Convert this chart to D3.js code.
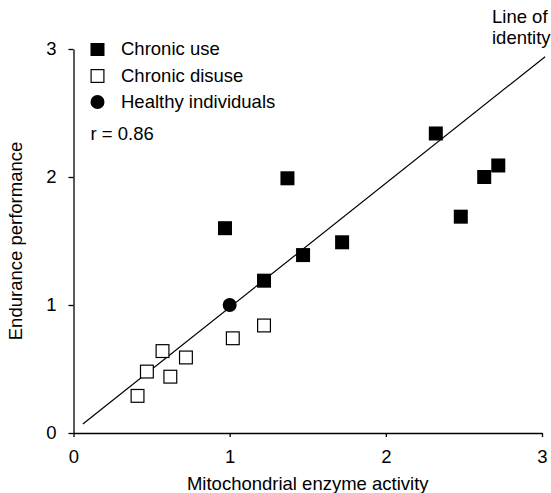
<!DOCTYPE html>
<html>
<head>
<meta charset="utf-8">
<script src="https://cdn.jsdelivr.net/npm/d3@7"></script>
<style>
  body { margin: 0; background: #fff; }
  text { font-family: "Liberation Sans", Arial, Helvetica, sans-serif; fill: #000; }
</style>
</head>
<body>
<svg id="chart"></svg>
<script>
// chronic use (filled squares)
const useX = [0.97, 1.37, 1.22, 1.47, 1.72, 2.32, 2.48, 2.63, 2.72];
const useY = [1.60, 1.99, 1.19, 1.39, 1.49, 2.34, 1.69, 2.00, 2.09];
// chronic disuse (open squares)
const disuseX = [0.41, 0.47, 0.57, 0.62, 0.72, 1.02, 1.22];
const disuseY = [0.29, 0.48, 0.64, 0.44, 0.59, 0.74, 0.84];
// healthy individuals
const healthyX = [1.0];
const healthyY = [1.0];
// line of identity end points
const lineX = [0.06, 3.02];
const lineY = [0.07, 2.94];

const ticks = [0, 1, 2, 3];

const width = 551, height = 493;
const svg = d3.select("#chart").attr("width", width).attr("height", height);

const x = d3.scaleLinear().domain([0, 3]).range([73.5, 542]);
const y = d3.scaleLinear().domain([0, 3]).range([433, 49]);

const fontSize = 18.5;

// axes
svg.append("g")
    .attr("transform", "translate(0," + y(0) + ")")
    .call(d3.axisBottom(x).tickValues(ticks).tickFormat(d3.format("d")).tickSize(4).tickSizeOuter(0).tickPadding(13));
svg.append("g")
    .attr("transform", "translate(" + x(0) + ",0)")
    .call(d3.axisLeft(y).tickValues(ticks).tickFormat(d3.format("d")).tickSize(5).tickSizeOuter(0).tickPadding(12));

svg.selectAll(".domain, .tick line").attr("stroke", "#000").attr("stroke-width", 1.3);
svg.selectAll(".tick text").attr("font-size", fontSize).attr("font-family", null);

// identity line
svg.append("line")
    .attr("x1", x(lineX[0])).attr("y1", y(lineY[0]))
    .attr("x2", x(lineX[1])).attr("y2", y(lineY[1]))
    .attr("stroke", "#000").attr("stroke-width", 1.2);

const sq = 14;

svg.append("g").selectAll("rect")
    .data(disuseX.map((d, i) => [d, disuseY[i]]))
    .join("rect")
    .attr("x", d => x(d[0]) - sq / 2 + 0.6)
    .attr("y", d => y(d[1]) - sq / 2 + 0.6)
    .attr("width", sq - 1.2).attr("height", sq - 1.2)
    .attr("fill", "#fff").attr("stroke", "#000").attr("stroke-width", 1.2);

svg.append("g").selectAll("rect")
    .data(useX.map((d, i) => [d, useY[i]]))
    .join("rect")
    .attr("x", d => x(d[0]) - sq / 2)
    .attr("y", d => y(d[1]) - sq / 2)
    .attr("width", sq).attr("height", sq)
    .attr("fill", "#000");

svg.append("g").selectAll("circle")
    .data(healthyX.map((d, i) => [d, healthyY[i]]))
    .join("circle")
    .attr("cx", d => x(d[0])).attr("cy", d => y(d[1]))
    .attr("r", 7).attr("fill", "#000");

// legend
const lg = svg.append("g").attr("transform", "translate(97.5,0)");
lg.append("rect").attr("x", -7).attr("y", 43).attr("width", 14).attr("height", 13).attr("fill", "#000");
lg.append("rect").attr("x", -6.4).attr("y", 69.6).attr("width", 12.8).attr("height", 12.8)
    .attr("fill", "#fff").attr("stroke", "#000").attr("stroke-width", 1.2);
lg.append("circle").attr("cx", 0).attr("cy", 102).attr("r", 7).attr("fill", "#000");

const labels = ["Chronic use", "Chronic disuse", "Healthy individuals"];
lg.selectAll("text.lab").data(labels).join("text")
    .attr("class", "lab")
    .attr("x", 23.5).attr("y", (d, i) => 49 + i * 26.5)
    .attr("dy", "0.35em")
    .attr("font-size", fontSize)
    .text(d => d);

svg.append("text").attr("x", 90.5).attr("y", 134).attr("dy", "0.35em")
    .attr("font-size", fontSize).text("r = 0.86");

// line of identity label
svg.append("text").attr("x", 492).attr("y", 22.5).attr("font-size", fontSize).text("Line of");
svg.append("text").attr("x", 492).attr("y", 43.5).attr("font-size", fontSize).text("identity");

// axis titles
svg.append("text")
    .attr("x", (x(0) + x(3)) / 2).attr("y", 490)
    .attr("text-anchor", "middle").attr("font-size", fontSize)
    .text("Mitochondrial enzyme activity");
svg.append("text")
    .attr("transform", "translate(22," + 241 + ") rotate(-90)")
    .attr("text-anchor", "middle").attr("font-size", fontSize)
    .text("Endurance performance");
</script>
</body>
</html>
